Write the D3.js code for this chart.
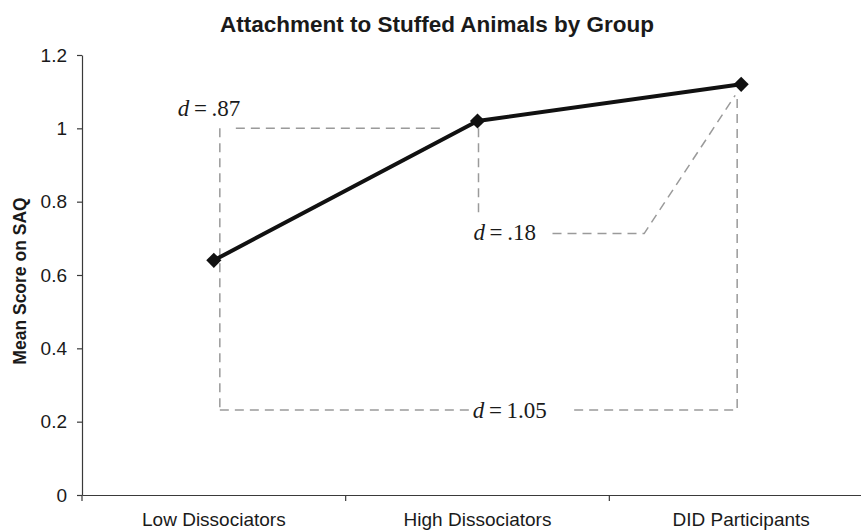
<!DOCTYPE html>
<html>
<head>
<meta charset="utf-8">
<script src="https://cdn.jsdelivr.net/npm/d3@7"></script>
<style>
  html, body { margin: 0; padding: 0; background: #fff; }
  svg { display: block; }
</style>
</head>
<body>
<svg id="chart" width="861" height="531"></svg>
<script>
const categories = ["Low Dissociators", "High Dissociators", "DID Participants"];
const meanScores = [0.64, 1.02, 1.12];
const yTicks = [0, 0.2, 0.4, 0.6, 0.8, 1, 1.2];
const yTickLabels = ["0", "0.2", "0.4", "0.6", "0.8", "1", "1.2"];
const effectLabels = [".87", ".18", "1.05"];

const svg = d3.select("#chart");
const plotLeft = 82, plotRight = 873, plotTop = 55, plotBottom = 495;

const x = d3.scaleBand().domain(categories).range([plotLeft, plotRight]).padding(0);
const y = d3.scaleLinear().domain([0, 1.2]).range([plotBottom, plotTop]);
const cx = c => x(c) + x.bandwidth() / 2;

const sans = "'Liberation Sans', Arial, Helvetica, sans-serif";
const serif = "'Liberation Serif', 'Times New Roman', Times, serif";
const axisColor = "#3a3a3a";

// Title
svg.append("text")
  .attr("x", 437).attr("y", 32)
  .attr("text-anchor", "middle")
  .attr("font-family", sans).attr("font-weight", "bold")
  .attr("font-size", 22.5).attr("fill", "#1a1a1a")
  .text("Attachment to Stuffed Animals by Group");

// Y axis
const yAxis = d3.axisLeft(y)
  .tickValues(yTicks)
  .tickFormat((d, i) => yTickLabels[i])
  .tickSizeInner(5).tickSizeOuter(0).tickPadding(10);
const gy = svg.append("g").attr("transform", `translate(${plotLeft},0)`).call(yAxis);
gy.select(".domain").attr("stroke", axisColor).attr("stroke-width", 1.2);
gy.selectAll(".tick line").attr("stroke", axisColor).attr("stroke-width", 1.2);
gy.selectAll(".tick text").attr("font-family", sans).attr("font-size", 19).attr("fill", "#1a1a1a");

// X axis
const xAxis = d3.axisBottom(x).tickSize(0).tickPadding(18);
const gx = svg.append("g").attr("transform", `translate(0,${plotBottom})`).call(xAxis);
gx.select(".domain").attr("stroke", axisColor).attr("stroke-width", 1.2);
gx.selectAll(".tick text").attr("font-family", sans).attr("font-size", 19).attr("fill", "#1a1a1a");
const boundaries = categories.map(c => x(c)).concat([x(categories[categories.length - 1]) + x.bandwidth()]);
gx.selectAll(".bound").data(boundaries).enter().append("line")
  .attr("class", "bound")
  .attr("x1", d => d).attr("x2", d => d)
  .attr("y1", 0).attr("y2", 6)
  .attr("stroke", axisColor).attr("stroke-width", 1.2);

// Y axis title
svg.append("text")
  .attr("transform", `translate(26,${(plotTop + plotBottom) / 2 + 6}) rotate(-90)`)
  .attr("text-anchor", "middle")
  .attr("font-family", sans).attr("font-weight", "bold")
  .attr("font-size", 17.5).attr("fill", "#1a1a1a")
  .text("Mean Score on SAQ");

// Annotation dashed brackets
const dashColor = "#9a9a9a";
const ann = svg.append("g").attr("fill", "none").attr("stroke", dashColor)
  .attr("stroke-width", 1.5).attr("stroke-dasharray", "9,6");
const xL = cx(categories[0]) + 6, xH = cx(categories[1]) + 1, xD = cx(categories[2]) - 4;
ann.append("path").attr("d", `M${xL},${y(1.0)} L${xL},${y(0.232)}`);
ann.append("path").attr("d", `M${xL + 16},${y(1.0)} L${xH - 35},${y(1.0)}`);
ann.append("path").attr("d", `M${xH},${y(1.0)} L${xH},${y(0.765)}`);
ann.append("path").attr("d", `M${xH + 74},${y(0.713)} L${xD - 93},${y(0.713)} L${xD - 2},${y(1.09)}`);
ann.append("path").attr("d", `M${xL},${y(0.232)} L${xL + 250},${y(0.232)}`);
ann.append("path").attr("d", `M${xD - 163},${y(0.232)} L${xD},${y(0.232)} L${xD},${y(1.09)}`);

function dLabel(xp, yp, val) {
  const t = svg.append("text").attr("x", xp).attr("y", yp)
    .attr("font-family", serif).attr("font-size", 23).attr("fill", "#1a1a1a");
  t.append("tspan").attr("font-style", "italic").text("d");
  t.append("tspan").text("\u2009=\u2009" + val);
}
dLabel(xL - 42, y(1.0) - 12, effectLabels[0]);
dLabel(xH - 5, y(0.713) + 6, effectLabels[1]);
dLabel(xL + 253, y(0.232) + 8, effectLabels[2]);

// Line series
const pts = categories.map((c, i) => [cx(c), y(meanScores[i])]);
svg.append("path")
  .attr("d", d3.line()(pts))
  .attr("fill", "none").attr("stroke", "#111")
  .attr("stroke-width", 4).attr("stroke-linejoin", "round");

svg.selectAll(".marker").data(pts).enter().append("path")
  .attr("class", "marker")
  .attr("transform", d => `translate(${d[0]},${d[1]}) rotate(45)`)
  .attr("d", d3.symbol().type(d3.symbolSquare).size(115)())
  .attr("fill", "#111");
</script>
</body>
</html>
